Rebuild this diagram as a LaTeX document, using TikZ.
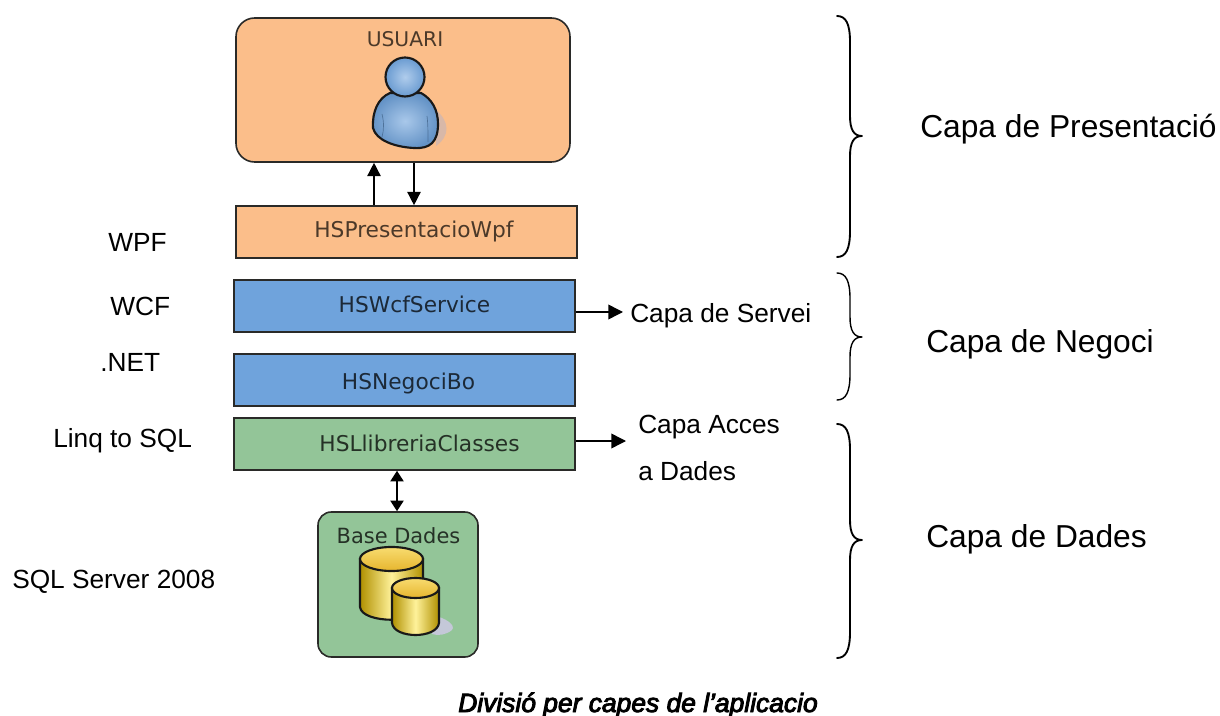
\documentclass[tikz,border=0pt]{standalone}
\usepackage{fontspec}
\setmainfont{Liberation Sans}
\newfontfamily\boxfont{DejaVu Sans}
\newfontfamily\capfont[FakeBold=3.5]{Liberation Sans Italic}
\usetikzlibrary{arrows.meta,calc}
\definecolor{orangefill}{HTML}{FBBE8A}
\definecolor{bluefill}{HTML}{6FA3DC}
\definecolor{greenfill}{HTML}{93C598}
\definecolor{boxline}{HTML}{2A2A28}
\definecolor{golddark}{HTML}{B09000}
\definecolor{goldmid}{HTML}{FFF29A}
\definecolor{goldtop}{HTML}{E6B52E}
\definecolor{goldlight}{HTML}{F8DC70}
\definecolor{dbshadow}{HTML}{C4C8D8}
\definecolor{usershadow}{HTML}{D8B8A8}
\tikzset{
  x=0.75pt,y=-0.75pt,
  layerbox/.style={draw=boxline,line width=1.2pt,inner sep=0pt,minimum height=39pt,minimum width=255.75pt},
  panel/.style={draw=boxline,line width=1.2pt,inner sep=0pt,rounded corners=14pt},
  boxlabel/.style={font=\boxfont\fontsize{16.3}{19}\selectfont,anchor=base,inner sep=0pt,text=#1},
  sidelabel/.style={font=\fontsize{19.7}{23}\selectfont,anchor=base west,inner sep=0pt},
  biglabel/.style={font=\fontsize{23.8}{28}\selectfont,anchor=base west,inner sep=0pt},
  flow/.style={line width=1.1pt,-{Triangle[length=10pt,width=10pt]}},
  hflow/.style={line width=1.1pt,-{Triangle[length=11pt,width=11pt]}},
  flowboth/.style={line width=1.1pt,{Triangle[length=8pt,width=10pt]}-{Triangle[length=8pt,width=10pt]}},
  bracket/.style={line width=1.4pt,line cap=round,line join=round},
  thinbracket/.style={line width=1.05pt,line cap=round,line join=round},
  iconline/.style={line width=1.6pt,draw=black!90},
}
\newcommand{\bigbrace}[4]{%
  \draw[#4] (837,#1) .. controls (846,#1) and (850,#1+8) .. (850,#1+26) -- (850,#2-20)
    .. controls (850,#2-6) and (854,#2) .. (862,#2) .. controls (854,#2) and (850,#2+6) .. (850,#2+20)
    -- (850,#3-26) .. controls (850,#3-8) and (846,#3) .. (837,#3);}
\begin{document}
\begin{tikzpicture}
\useasboundingbox (0,0) rectangle (1220,716);
\fill[white] (0,0) rectangle (1220,716);

% panels
\node[panel,fill=orangefill,minimum width=250.5pt,minimum height=108pt] (usuari) at (403,90) {};
\node[layerbox,fill=orangefill] (wpf) at (406.5,232) {};
\node[layerbox,fill=bluefill] (wcf) at (404.5,306) {};
\node[layerbox,fill=bluefill] (bo) at (404.5,380) {};
\node[layerbox,fill=greenfill] (libs) at (404.5,444) {};
\node[panel,fill=greenfill,minimum width=120pt,minimum height=108.75pt,rounded corners=10pt] (bd) at (398,584.5) {};

% user icon
\fill[usershadow] (436,110) .. controls (450,122) and (450,136) .. (436,146) -- cycle;
\draw[iconline,inner color=bluefill!60,outer color=bluefill!90!black]
  (390,93) .. controls (378,98) and (372,112) .. (373,128)
  .. controls (376,140) and (394,147) .. (414,148)
  .. controls (430,149) and (438,142) .. (438,124)
  .. controls (438,110) and (432,99) .. (421,93) -- cycle;
\draw[line width=.5pt,draw=bluefill!70!black] (382,114) .. controls (384,122) and (384,130) .. (382,137);
\draw[line width=.5pt,draw=bluefill!70!black] (427,116) .. controls (428,124) and (428,132) .. (428,142);
\draw[iconline,inner color=bluefill!55,outer color=bluefill!95!black] (405,77) circle (19.5);

% database icon
\fill[dbshadow] (432,615) .. controls (446,618) and (456,625) .. (452,630) .. controls (446,635) and (438,636) .. (432,634) -- cycle;
\draw[iconline,left color=golddark,right color=golddark,middle color=goldmid]
  (360,559) -- (360,607) .. controls (362,624) and (421,624) .. (423,607) -- (423,559) -- cycle;
\draw[iconline,top color=goldlight,bottom color=goldtop] (391.5,559) ellipse (31.5 and 12);
\draw[iconline,left color=golddark,right color=golddark,middle color=goldmid]
  (392,588) -- (392,623) .. controls (394,639) and (437,639) .. (439,623) -- (439,588) -- cycle;
\draw[iconline,top color=goldlight,bottom color=goldtop] (415.5,588) ellipse (23.5 and 10);

% labels inside boxes
\node[boxlabel={black!70!orangefill},font=\boxfont\fontsize{15.2}{18}\selectfont] (tusuari) at (405,47) {USUARI};
\node[boxlabel={black!70!orangefill}] (twpf) at (414,238) {HSPresentacioWpf};
\node[boxlabel={black!75!bluefill}] (twcf) at (414.5,313) {HSWcfService};
\node[boxlabel={black!75!bluefill}] (tbo) at (408.5,389) {HSNegociBo};
\node[boxlabel={black!75!greenfill}] (tlibs) at (419.5,451) {HSLlibreriaClasses};
\node[boxlabel={black!75!greenfill},font=\boxfont\fontsize{15.7}{18}\selectfont] (tbd) at (398.5,543) {Base Dades};

% side labels
\node[sidelabel] (lwpf) at (108,252) {WPF};
\node[sidelabel] (lwcf) at (110,316) {WCF};
\node[sidelabel] (lnet) at (100,372) {.NET};
\node[sidelabel] (llinq) at (53,447) {Linq to SQL};
\node[sidelabel] (lsql) at (12,588) {SQL Server 2008};
\node[sidelabel] (lservei) at (630,323) {Capa de Servei};
\node[sidelabel] (lacces) at (638,433) {Capa Acces};
\node[sidelabel] (ladades) at (638,480) {a Dades};
\node[biglabel] (lpres) at (920,138) {Capa de Presentació};
\node[biglabel] (lneg) at (926,353) {Capa de Negoci};
\node[biglabel] (ldades) at (926,547) {Capa de Dades};
\node[font=\capfont\fontsize{19.8}{23}\selectfont,anchor=base west,inner sep=0pt] (caption) at (458,712) {Divisió per capes de l’aplicacio};

% connectors
\coordinate (upx) at (374,0);
\coordinate (downx) at (414,0);
\coordinate (dbx) at (397,0);
\coordinate (serveiy) at (0,312);
\coordinate (accesy) at (0,441);
\coordinate (serveiend) at (623,312);
\coordinate (accesend) at (626,441);
\draw[flow] (upx |- wpf.north) -- (upx |- usuari.south);
\draw[flow] (downx |- usuari.south) -- (downx |- wpf.north);
\draw[flowboth] (dbx |- libs.south) -- (dbx |- bd.north);
\draw[hflow] (wcf.east |- serveiy) -- (serveiend);
\draw[hflow] (libs.east |- accesy) -- (accesend);

% braces
\bigbrace{16}{136}{257}{bracket}
\bigbrace{273}{337}{400}{thinbracket}
\bigbrace{424}{540}{658}{bracket}
\end{tikzpicture}
\end{document}
